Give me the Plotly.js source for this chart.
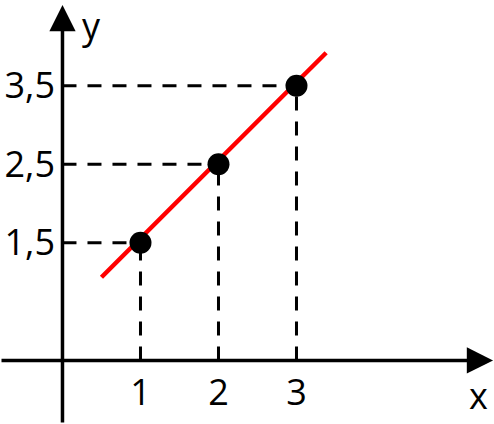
<!DOCTYPE html>
<html>
<head>
<meta charset="utf-8">
<script src="https://cdn.plot.ly/plotly-3.0.1.min.js"></script>
<style>html,body{margin:0;padding:0;background:#fff;}#chart{width:494px;height:424px;}</style>
</head>
<body>
<div id="chart"></div>
<script>
// Data
const pointX = [1, 2, 3];
const pointY = [1.5, 2.5, 3.5];
const lineX = [0.5, 3.38];
const lineY = [1.06, 3.92];
const xTickVals = [1, 2, 3];
const xTickText = ['1', '2', '3'];
const yTickVals = [1.5, 2.5, 3.5];
const yTickText = ['1,5', '2,5', '3,5'];
const xAxisLabel = 'x';
const yAxisLabel = 'y';

const xRange = [-0.801, 5.532];
const yRange = [-0.809, 4.592];
const FONT = '"Open Sans", "DejaVu Sans", sans-serif';

// dashed guide lines from each point to both axes
const hx = [], hy = [], vx = [], vy = [];
pointX.forEach((x, i) => {
  hx.push(0, x, null); hy.push(pointY[i], pointY[i], null);
  vx.push(x, x, null); vy.push(0, pointY[i], null);
});

const traces = [
  {x: hx, y: hy, mode: 'lines', line: {color: '#000', width: 3, dash: '14px,11px'}, hoverinfo: 'skip'},
  {x: vx, y: vy, mode: 'lines', line: {color: '#000', width: 3, dash: '14px,11px'}, hoverinfo: 'skip'},
  {x: lineX, y: lineY, mode: 'lines', line: {color: '#ff0000', width: 4.5}},
  {x: pointX, y: pointY, mode: 'markers', marker: {color: '#000', size: 22}}
];

const layout = {
  width: 494, height: 424,
  margin: {l: 0, r: 0, t: 0, b: 0, pad: 0},
  paper_bgcolor: '#fff', plot_bgcolor: '#fff',
  showlegend: false,
  font: {family: FONT, color: '#000', size: 36},
  xaxis: {
    range: xRange, anchor: 'free', position: 63 / 424,
    showgrid: false, zeroline: false, showline: false, ticks: '',
    tickvals: xTickVals, ticktext: xTickText,
    tickfont: {family: FONT, size: 36, color: '#000'},
    ticklabelstandoff: 7, fixedrange: true
  },
  yaxis: {
    range: yRange, anchor: 'free', position: 63 / 494,
    showgrid: false, zeroline: false, showline: false, ticks: '',
    tickvals: yTickVals, ticktext: yTickText,
    tickfont: {family: FONT, size: 36, color: '#000'},
    ticklabelstandoff: 8, fixedrange: true
  },
  annotations: [
    {x: 5.52, y: 0, ax: xRange[0], ay: 0, xref: 'x', yref: 'y', axref: 'x', ayref: 'y',
     text: '', showarrow: true, arrowhead: 2, arrowsize: 1.5, arrowwidth: 3.5, arrowcolor: '#000'},
    {x: 0, y: 4.529, ax: 0, ay: yRange[0], xref: 'x', yref: 'y', axref: 'x', ayref: 'y',
     text: '', showarrow: true, arrowhead: 2, arrowsize: 1.5, arrowwidth: 3.5, arrowcolor: '#000'},
    {x: 5.33, y: -0.44, xref: 'x', yref: 'y', text: xAxisLabel, showarrow: false,
     xanchor: 'center', yanchor: 'middle', font: {family: FONT, size: 36, color: '#000'}},
    {x: 0.37, y: yRange[1], xref: 'x', yref: 'y', text: yAxisLabel, showarrow: false,
     xanchor: 'center', yanchor: 'top', borderpad: 0, font: {family: FONT, size: 36, color: '#000'}}
  ]
};

Plotly.newPlot('chart', traces, layout, {displayModeBar: false, staticPlot: true});
</script>
</body>
</html>
